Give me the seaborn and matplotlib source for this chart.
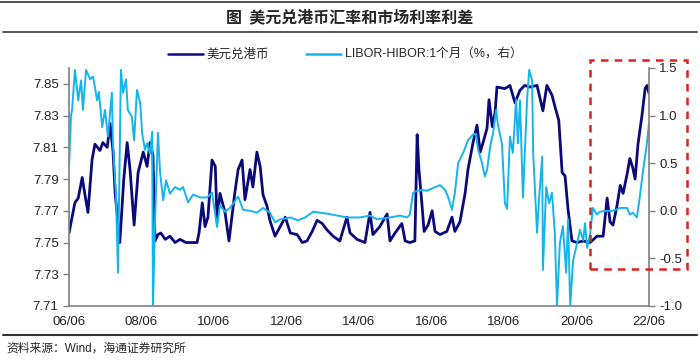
import pandas as pd
import numpy as np
import matplotlib.pyplot as plt
import matplotlib.dates as mdates
from matplotlib.lines import Line2D
from matplotlib.patches import Rectangle
import seaborn as sns

sns.set_style('white')
plt.rcParams['font.family'] = ['Liberation Sans', 'Noto Sans CJK SC']
plt.rcParams['axes.unicode_minus'] = False

# 美元兑港币 (左轴)
hkd_dates = ['2006-06-01', '2006-07-30', '2006-09-02', '2006-10-12', '2006-11-09', '2006-12-09',
             '2007-01-19', '2007-02-17', '2007-04-09', '2007-05-08', '2007-06-21', '2007-07-20',
             '2007-08-18', '2007-09-09', '2007-10-26', '2007-12-05', '2008-01-08', '2008-02-06',
             '2008-03-18', '2008-04-27', '2008-06-18', '2008-07-27', '2008-08-25', '2008-09-24',
             '2008-10-15', '2008-11-13', '2008-12-12', '2009-01-26', '2009-03-14', '2009-05-05',
             '2009-06-24', '2009-08-22', '2009-10-23', '2009-12-12', '2010-01-01', '2010-02-03',
             '2010-03-03', '2010-04-01', '2010-05-12', '2010-06-14', '2010-07-02', '2010-07-31',
             '2010-09-20', '2010-10-30', '2010-12-27', '2011-01-30', '2011-03-11', '2011-04-09',
             '2011-05-30', '2011-06-28', '2011-08-07', '2011-09-09', '2011-10-08', '2011-11-17',
             '2011-12-16', '2012-02-06', '2012-03-29', '2012-05-19', '2012-07-09', '2012-09-16',
             '2012-11-06', '2012-12-24', '2013-02-14', '2013-04-05', '2013-05-26', '2013-07-13',
             '2013-09-13', '2013-11-20', '2014-01-30', '2014-03-03', '2014-05-12', '2014-07-31',
             '2014-09-20', '2014-10-19', '2014-12-27', '2015-03-11', '2015-04-09', '2015-05-30',
             '2015-08-07', '2015-09-09', '2015-10-26', '2015-12-16', '2016-01-08', '2016-01-26',
             '2016-02-24', '2016-03-18', '2016-04-27', '2016-06-07', '2016-07-06', '2016-08-25',
             '2016-11-02', '2016-12-24', '2017-01-22', '2017-03-14', '2017-05-05', '2017-06-03',
             '2017-07-24', '2017-09-02', '2017-10-04', '2017-11-02', '2017-12-12', '2018-01-01',
             '2018-02-03', '2018-03-03', '2018-03-22', '2018-06-10', '2018-07-31', '2018-09-20',
             '2018-11-09', '2018-12-27', '2019-02-17', '2019-04-30', '2019-06-28', '2019-08-07',
             '2019-09-27', '2019-10-26', '2019-12-05', '2020-01-08', '2020-02-06', '2020-03-07',
             '2020-04-16', '2020-06-07', '2020-08-07', '2020-10-15', '2020-12-24', '2021-02-24',
             '2021-04-05', '2021-05-05', '2021-06-03', '2021-07-13', '2021-08-15', '2021-09-13',
             '2021-10-23', '2021-11-20', '2021-12-20', '2022-01-12', '2022-02-10', '2022-03-22',
             '2022-04-23', '2022-05-12', '2022-06-01']
hkd_values = [7.756, 7.775, 7.778, 7.791, 7.780, 7.769,
              7.802, 7.812, 7.808, 7.813, 7.810, 7.825,
              7.808, 7.781, 7.750, 7.790, 7.813, 7.796,
              7.761, 7.794, 7.807, 7.798, 7.813, 7.805,
              7.751, 7.755, 7.756, 7.752, 7.754, 7.750,
              7.752, 7.750, 7.750, 7.750, 7.756, 7.775,
              7.760, 7.766, 7.802, 7.798, 7.763, 7.781,
              7.769, 7.751, 7.781, 7.796, 7.802, 7.777,
              7.796, 7.785, 7.807, 7.798, 7.780, 7.773,
              7.764, 7.754, 7.760, 7.766, 7.756, 7.755,
              7.750, 7.751, 7.757, 7.764, 7.762, 7.758,
              7.754, 7.751, 7.766, 7.756, 7.752, 7.750,
              7.769, 7.755, 7.760, 7.768, 7.751, 7.756,
              7.762, 7.751, 7.750, 7.751, 7.818, 7.796,
              7.775, 7.757, 7.761, 7.770, 7.757, 7.755,
              7.757, 7.766, 7.757, 7.763, 7.781, 7.796,
              7.813, 7.824, 7.807, 7.813, 7.822, 7.840,
              7.823, 7.832, 7.848, 7.847, 7.849, 7.838,
              7.846, 7.849, 7.848, 7.849, 7.833, 7.849,
              7.843, 7.836, 7.827, 7.794, 7.792, 7.771,
              7.751, 7.750, 7.751, 7.750, 7.754, 7.754,
              7.778, 7.763, 7.761, 7.773, 7.786, 7.781,
              7.793, 7.803, 7.797, 7.790, 7.812, 7.830,
              7.847, 7.849, 7.844]

# LIBOR-HIBOR:1个月 (右轴, %)
spread_dates = ['2006-06-01', '2006-06-21', '2006-07-02', '2006-07-31', '2006-09-02', '2006-10-01',
                '2006-10-19', '2006-11-20', '2007-01-01', '2007-01-30', '2007-03-11', '2007-03-29',
                '2007-05-01', '2007-05-30', '2007-06-28', '2007-08-07', '2007-08-18', '2007-09-16',
                '2007-10-08', '2007-11-06', '2007-11-28', '2007-12-27', '2008-01-15', '2008-02-24',
                '2008-03-18', '2008-04-16', '2008-05-19', '2008-06-07', '2008-07-06', '2008-07-27',
                '2008-08-25', '2008-09-16', '2008-09-24', '2008-10-15', '2008-11-13', '2008-12-05',
                '2009-01-05', '2009-02-03', '2009-03-14', '2009-05-05', '2009-06-24', '2009-07-24',
                '2009-09-13', '2009-11-02', '2010-01-12', '2010-03-22', '2010-05-12', '2010-07-02',
                '2010-07-31', '2010-09-20', '2010-11-09', '2010-12-27', '2011-01-30', '2011-03-22',
                '2011-05-30', '2011-08-07', '2011-10-08', '2011-12-16', '2012-02-06', '2012-03-29',
                '2012-07-09', '2012-09-24', '2012-12-05', '2013-02-24', '2013-07-13', '2013-10-23',
                '2014-02-03', '2014-06-10', '2014-09-20', '2014-11-28', '2015-04-09', '2015-07-20',
                '2015-09-27', '2015-10-26', '2015-11-28', '2016-01-08', '2016-02-24', '2016-04-16',
                '2016-06-18', '2016-08-25', '2016-10-15', '2016-11-13', '2016-12-24', '2017-01-22',
                '2017-02-24', '2017-04-16', '2017-06-03', '2017-07-24', '2017-08-22', '2017-09-13',
                '2017-10-23', '2017-11-20', '2017-12-12', '2018-01-12', '2018-02-10', '2018-03-14',
                '2018-04-01', '2018-05-12', '2018-06-10', '2018-07-02', '2018-07-31', '2018-08-29',
                '2018-10-01', '2018-10-19', '2018-11-09', '2018-12-09', '2019-01-19', '2019-02-10',
                '2019-03-11', '2019-03-22', '2019-04-30', '2019-05-19', '2019-06-21', '2019-06-28',
                '2019-07-31', '2019-08-29', '2019-09-27', '2019-10-26', '2019-11-17', '2019-12-16',
                '2020-01-15', '2020-02-17', '2020-03-07', '2020-03-29', '2020-04-27', '2020-06-07',
                '2020-07-06', '2020-08-07', '2020-08-25', '2020-09-16', '2020-10-15', '2020-11-13',
                '2020-12-24', '2021-01-23', '2021-04-05', '2021-06-03', '2021-08-15', '2021-10-23',
                '2021-11-20', '2021-12-20', '2022-01-30', '2022-03-03', '2022-04-01', '2022-05-12',
                '2022-06-01']
spread_values = [0.45, 1.00, 1.06, 1.48, 1.16, 1.37,
                 1.06, 1.48, 1.38, 1.41, 1.16, 1.25,
                 0.88, 1.06, 0.78, 1.24, 0.70, 0.19,
                 -0.65, 1.48, 1.24, 1.38, 1.06, 0.99,
                 0.74, 1.27, 1.13, 0.81, 0.64, 0.71,
                 0.60, 0.83, -1.00, -0.10, 0.82, 0.40,
                 0.11, 0.32, 0.18, 0.25, 0.22, 0.25,
                 0.09, 0.17, 0.14, 0.14, 0.19, -0.17,
                 0.06, -0.01, 0.03, 0.10, 0.15, 0.01,
                 0.00, -0.02, 0.03, -0.02, -0.12, -0.09,
                 -0.07, -0.10, -0.07, -0.01, -0.03, -0.05,
                 -0.07, -0.07, -0.05, -0.09, -0.07, -0.05,
                 -0.07, -0.04, 0.19, 0.21, 0.22, 0.21,
                 0.24, 0.27, 0.22, 0.15, 0.01, 0.19,
                 0.50, 0.61, 0.74, 0.80, 0.81, 0.64,
                 0.50, 0.36, 0.43, 0.67, 0.81, 1.06,
                 0.90, 0.70, 0.08, 0.02, 0.78, 0.61,
                 1.17, 0.71, 1.16, 0.14, 1.16, 1.48,
                 1.37, 0.61, -0.23, 0.11, 0.57, -0.62,
                 0.25, 0.08, 0.19, -0.23, -1.00, -0.34,
                 -0.16, -0.65, -0.09, -1.00, -0.52, -0.34,
                 -0.20, -0.31, -0.13, -0.39, -0.25, 0.03,
                 -0.04, -0.01, 0.00, 0.00, 0.03, 0.03,
                 -0.04, -0.02, -0.07, 0.17, 0.41, 0.72,
                 0.92]

df1 = pd.DataFrame({'date': pd.to_datetime(hkd_dates), 'val': hkd_values})
df2 = pd.DataFrame({'date': pd.to_datetime(spread_dates), 'val': spread_values})

navy = '#0a0a7a'
sky = '#14b4ec'
grey = '#808080'

fig = plt.figure(figsize=(7, 3.63), dpi=100)
ax = fig.add_axes([69/700, 1-306/363, 580/700, 238/363])
ax2 = ax.twinx()

sns.lineplot(data=df1, x='date', y='val', ax=ax, color=navy, lw=2.0)
sns.lineplot(data=df2, x='date', y='val', ax=ax2, color=sky, lw=1.4)

ax.set_xlim(pd.Timestamp('2006-06-01'), pd.Timestamp('2022-06-01'))
ax.set_ylim(7.71, 7.86)
ax2.set_ylim(-1.0, 1.5)
ax.set_yticks([7.71, 7.73, 7.75, 7.77, 7.79, 7.81, 7.83, 7.85])
ax.set_yticklabels(['7.71', '7.73', '7.75', '7.77', '7.79', '7.81', '7.83', '7.85'])
ax2.set_yticks([-1.0, -0.5, 0.0, 0.5, 1.0, 1.5])
ax2.set_yticklabels(['-1.0', '-0.5', '0.0', '0.5', '1.0', '1.5'])
ax.xaxis.set_major_locator(mdates.YearLocator(base=2, month=6, day=1))
ax.xaxis.set_major_formatter(mdates.DateFormatter('%y/%m'))
ax.set_xlabel('')
ax.set_ylabel('')
ax2.set_ylabel('')

for a in (ax, ax2):
    for s in a.spines.values():
        s.set_color(grey)
        s.set_linewidth(1.2)
    a.spines['top'].set_visible(False)
    a.tick_params(colors=grey, labelcolor='#222222', labelsize=9.5, length=4, width=1, direction='out')
    a.grid(False)
ax.spines['right'].set_visible(False)
ax2.spines['left'].set_visible(False)
ax2.spines['bottom'].set_visible(False)

# 图例
handles = [Line2D([], [], color=navy, lw=1.8), Line2D([], [], color=sky, lw=1.8)]
fig.legend(handles, ['美元兑港币', 'LIBOR-HIBOR:1个月（%，右）'], loc='center',
           bbox_to_anchor=(345/700, 1-55/363), ncol=2, frameon=False, fontsize=9,
           handlelength=2.8, handletextpad=0.3, columnspacing=3)

# 标题与分隔线
fig.text(0.5, 1-17/363, '图  美元兑港币汇率和市场利率利差', ha='center', va='center',
         fontsize=11.5, fontweight='bold', family=['Noto Sans CJK SC'])
fig.add_artist(Line2D([0, 1], [1-2/363, 1-2/363], color='#333333', lw=1.2))
fig.add_artist(Line2D([3/700, 697/700], [1-32/363, 1-32/363], color='#333333', lw=1.2))
fig.add_artist(Line2D([3/700, 697/700], [1-335/363, 1-335/363], color='#333333', lw=1.5))
fig.text(6/700, 1-349/363, '资料来源：Wind，海通证券研究所', ha='left', va='center', fontsize=8.5)

# 红色虚线框
fig.add_artist(Rectangle((590/700, 1-269/363), 97/700, 209/363, fill=False,
                         edgecolor='#e0201f', lw=1.8, ls=(0, (3, 2.5))))

plt.savefig('out.png', dpi=100)
